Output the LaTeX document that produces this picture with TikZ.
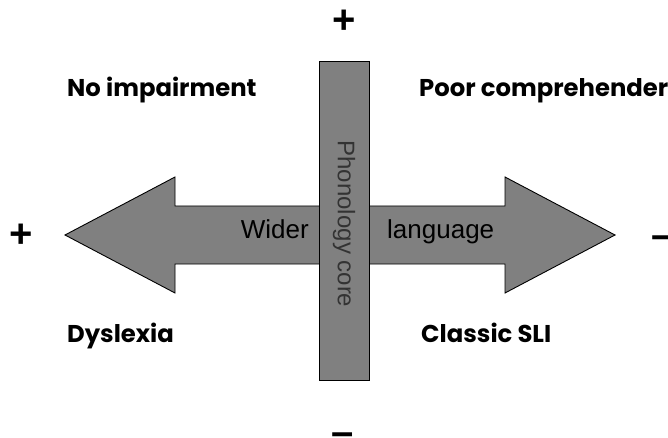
\documentclass[tikz,border=0pt]{standalone}
\usepackage{fontspec}
\setmainfont{Liberation Sans}
\newfontfamily\comicish{Poppins}
\begin{document}
\begin{tikzpicture}[x=1pt,y=-1pt,
  shapefill/.style={fill=black!50, draw=black, line width=0.9pt},
  quadlabel/.style={inner sep=0pt, font=\comicish\fontsize{24.3}{28}\selectfont\bfseries},
  armlabel/.style={inner sep=0pt, font=\fontsize{26}{30}\selectfont},
  signlabel/.style={inner sep=0pt, font=\fontsize{40}{44}\selectfont\bfseries}]
\clip (0,0) rectangle (668,438);
% double-headed block arrow
\draw[shapefill] (65,235) coordinate (ltip) -- (175,177) -- (175,206) -- (505,206) -- (505,177)
  -- (615,235) coordinate (rtip) -- (505,293) -- (505,264) -- (175,264) -- (175,293) -- cycle;
% vertical bar
\node[shapefill, minimum width=50pt, minimum height=319pt, inner sep=0pt] (bar) at (344,220.5) {};
\node[rotate=-90, inner sep=0pt, text=black!80, font=\fontsize{24}{28}\selectfont] (phon) at (344,224) {Phonology core};
% arm labels
\node[armlabel, anchor=base east] (wider) at (309,238) {Wider};
\node[armlabel, anchor=base west] (lang) at (387,238) {language};
% quadrant labels
\node[quadlabel, anchor=base west] (noimp) at (67,97) {No impairment};
\node[quadlabel, anchor=base west] (poor) at (419,97) {Poor comprehender};
\node[quadlabel, anchor=base west] (dys) at (67,342) {Dyslexia};
\node[quadlabel, anchor=base west] (sli) at (421,342) {Classic SLI};
% signs
\node[signlabel] (ptop) at (344,22) {+};
\node[signlabel] (pleft) at (21,236) {+};
\node[signlabel] (mbot) at (343,439.5) {–};
\node[signlabel, anchor=west] (mright) at (651,242) {–};
\end{tikzpicture}
\end{document}
